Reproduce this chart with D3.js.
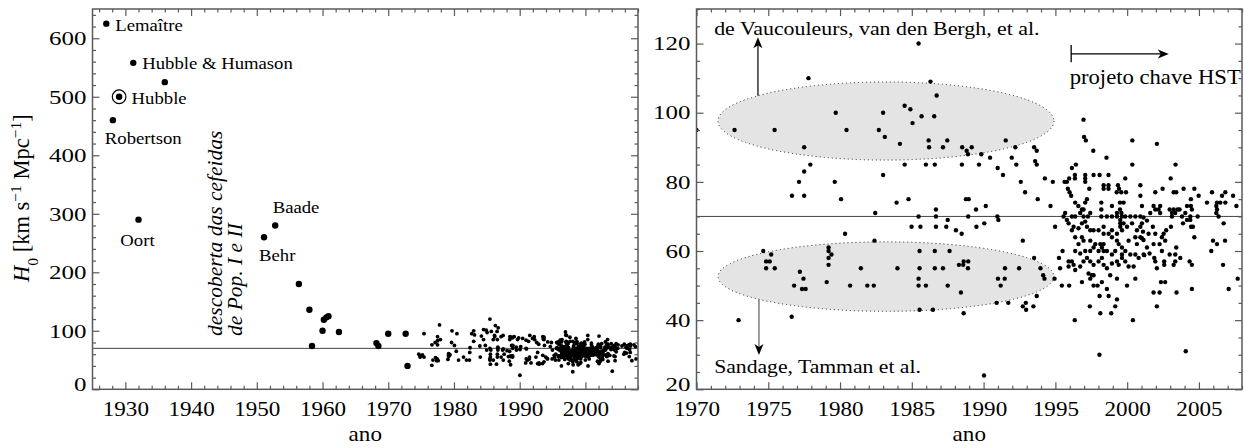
<!DOCTYPE html>
<html>
<head>
<meta charset="utf-8">
<script src="https://cdn.jsdelivr.net/npm/d3@7"></script>
<style>
  body { margin: 0; background: #fff; }
  svg { display: block; }
</style>
</head>
<body>
<svg id="chart" width="1244" height="448" font-family="'Liberation Serif', 'DejaVu Serif', serif"></svg>
<script>
// ---- Early determinations of the Hubble constant (year, H0) ----
const earlyMeasures = [
  [1927.1, 625], [1928.1, 460], [1929.05, 500], [1931.2, 558], [1932.0, 290],
  [1936.0, 525], [1951.1, 260], [1952.8, 280], [1956.4, 180], [1958.0, 136],
  [1958.4, 74], [1960.0, 100], [1960.2, 119], [1960.6, 123], [1960.9, 125],
  [1962.5, 98], [1968.2, 79], [1968.5, 74]
];

// Named historical determinations
const namedMeasures = [
  { name: "Lemaître", year: 1927.1, h0: 625 },
  { name: "Robertson", year: 1928.1, h0: 460 },
  { name: "Hubble", year: 1929.05, h0: 500 },
  { name: "Hubble & Humason", year: 1931.2, h0: 558 },
  { name: "Oort", year: 1932.0, h0: 290 },
  { name: "Behr", year: 1951.1, h0: 260 },
  { name: "Baade", year: 1952.8, h0: 280 }
];

// ---- Modern determinations (year, H0) ----
const measures1970s = [
  [1970.0, 95], [1972.65, 95], [1972.93, 40], [1974.65, 60], [1975.2, 59], [1974.85, 57],
  [1975.1, 57], [1974.85, 55], [1975.45, 55], [1975.44, 95], [1976.63, 41], [1976.65, 76],
  [1976.8, 50], [1977.14, 80], [1977.2, 54], [1977.45, 52], [1977.35, 49], [1977.6, 49],
  [1977.5, 76], [1977.5, 83], [1977.93, 85], [1977.5, 90], [1977.8, 110], [1979.2, 61],
  [1979.2, 60], [1979.4, 59], [1979.2, 58], [1979.2, 56], [1979.07, 51], [1979.63, 80],
  [1979.7, 100]
];

const measures1980s = [
  [1980.07, 75], [1980.35, 65], [1980.45, 95], [1980.7, 50], [1981.45, 55], [1981.9, 50],
  [1982.35, 50], [1982.4, 63], [1982.45, 71], [1982.7, 95], [1983.0, 82], [1983.0, 100],
  [1983.12, 93], [1983.94, 74], [1984.0, 55], [1984.17, 91], [1984.5, 85], [1984.5, 102],
  [1984.77, 75], [1984.9, 101], [1984.98, 67], [1985.05, 97], [1985.47, 120], [1985.47, 70],
  [1985.47, 52], [1985.47, 50], [1985.54, 60], [1985.54, 55], [1985.54, 43], [1985.6, 67],
  [1985.68, 99], [1985.98, 85], [1985.98, 50], [1986.17, 92], [1986.2, 90], [1986.3, 109],
  [1986.47, 43], [1986.56, 99], [1986.6, 85], [1986.6, 60], [1986.6, 55], [1986.68, 72],
  [1986.68, 70], [1986.68, 67], [1986.73, 105], [1987.17, 90], [1987.17, 55], [1987.4, 67],
  [1987.47, 92], [1987.5, 69], [1987.5, 50], [1987.63, 60], [1988.07, 66], [1988.28, 56],
  [1988.42, 48], [1988.47, 65], [1988.49, 85], [1988.51, 90], [1988.58, 56], [1988.61, 57],
  [1988.61, 42], [1988.77, 75], [1988.82, 89], [1988.91, 88], [1988.91, 55], [1988.93, 70],
  [1988.93, 57], [1988.96, 75], [1989.17, 90], [1989.47, 72], [1989.5, 67], [1989.68, 85],
  [1989.84, 88]
];

const measures1990s = [
  [1990.03, 24], [1990.05, 68], [1990.15, 73], [1990.45, 87], [1990.91, 45], [1990.96, 70],
  [1990.98, 84], [1991.0, 52], [1991.03, 69], [1991.19, 50], [1991.35, 82], [1991.47, 52],
  [1991.49, 55], [1991.54, 92], [1991.72, 45], [1991.96, 87], [1992.21, 90], [1992.28, 85],
  [1992.47, 55], [1992.59, 80], [1992.73, 63], [1992.73, 44], [1992.89, 77], [1992.94, 45],
  [1992.96, 43], [1993.47, 44], [1993.52, 90], [1993.52, 58], [1993.59, 86], [1993.7, 89],
  [1993.7, 85], [1993.7, 47], [1993.77, 75], [1993.96, 55], [1994.15, 53], [1994.24, 52],
  [1994.27, 81], [1994.66, 73], [1994.82, 80], [1994.94, 52], [1994.98, 67], [1995.25, 58],
  [1995.33, 55], [1995.5, 60], [1995.45, 50], [1995.57, 70], [1995.64, 80], [1995.68, 71],
  [1995.8, 80], [1995.8, 69], [1995.87, 78], [1995.92, 68], [1995.92, 57], [1995.92, 55.5],
  [1995.96, 81], [1995.96, 50], [1995.99, 77], [1996.1, 76], [1996.15, 84], [1996.15, 70],
  [1996.15, 66], [1996.15, 57], [1996.27, 67], [1996.27, 56], [1996.35, 40], [1996.36, 82],
  [1996.36, 81], [1996.38, 74], [1996.38, 70], [1996.38, 64], [1996.38, 60], [1996.38, 54.5],
  [1996.43, 85], [1996.6, 73], [1996.61, 66.6], [1996.61, 62], [1996.73, 71], [1996.73, 59.3],
  [1996.73, 55.5], [1996.85, 72], [1996.85, 68], [1996.85, 64], [1996.85, 51], [1996.96, 98],
  [1996.96, 72], [1996.96, 70], [1996.96, 63], [1996.96, 57], [1997.0, 93], [1997.08, 82],
  [1997.08, 81], [1997.08, 80], [1997.08, 74], [1997.08, 68.5], [1997.08, 60], [1997.12, 92],
  [1997.2, 75], [1997.2, 67], [1997.2, 58], [1997.27, 70], [1997.31, 53.5], [1997.36, 78],
  [1997.4, 44], [1997.43, 71], [1997.43, 66], [1997.43, 63], [1997.43, 60], [1997.43, 57],
  [1997.43, 52], [1997.55, 53], [1997.64, 89], [1997.66, 82], [1997.66, 66], [1997.66, 61],
  [1997.66, 56], [1997.66, 53], [1997.66, 50], [1997.78, 62], [1997.94, 50], [1998.01, 66],
  [1998.01, 60], [1998.01, 57], [1998.08, 82], [1998.08, 47], [1998.07, 30], [1998.13, 62],
  [1998.13, 42], [1998.2, 74], [1998.2, 72], [1998.2, 70], [1998.24, 61], [1998.24, 58],
  [1998.24, 51], [1998.36, 79], [1998.36, 78], [1998.36, 67], [1998.36, 65], [1998.36, 62],
  [1998.36, 60], [1998.36, 56], [1998.56, 87], [1998.59, 70], [1998.59, 60], [1998.59, 55],
  [1998.59, 49], [1998.7, 82], [1998.7, 79], [1998.7, 78], [1998.71, 65], [1998.71, 47],
  [1998.82, 53], [1998.89, 42], [1998.94, 73], [1998.94, 70], [1998.94, 66], [1998.94, 64],
  [1998.94, 59], [1998.94, 56.4], [1999.17, 60], [1999.17, 44], [1999.27, 77], [1999.29, 71],
  [1999.29, 70], [1999.29, 65], [1999.29, 63], [1999.29, 57], [1999.29, 52], [1999.29, 46],
  [1999.36, 79], [1999.41, 62], [1999.41, 56], [1999.43, 78], [1999.5, 74], [1999.5, 72],
  [1999.52, 69], [1999.52, 68], [1999.52, 67], [1999.59, 77], [1999.6, 71], [1999.64, 70],
  [1999.64, 66], [1999.64, 61], [1999.64, 59], [1999.64, 58], [1999.75, 74], [1999.75, 68],
  [1999.87, 81], [1999.87, 70], [1999.87, 60], [1999.87, 57], [1999.92, 77], [1999.99, 67],
  [1999.99, 50]
];

const measures2000s = [
  [2000.1, 63], [2000.1, 55.5], [2000.22, 70], [2000.22, 59], [2000.34, 68], [2000.36, 92],
  [2000.36, 85], [2000.4, 40], [2000.45, 55.5], [2000.57, 70], [2000.57, 64], [2000.57, 59],
  [2000.57, 52], [2000.68, 66], [2000.68, 62], [2000.8, 58], [2000.92, 79], [2000.92, 76],
  [2000.92, 70], [2000.92, 67], [2000.92, 64], [2001.03, 73], [2001.03, 68], [2001.03, 63.7],
  [2001.1, 65.6], [2001.14, 69.7], [2001.14, 63.2], [2001.15, 59], [2001.19, 58.8], [2001.38, 68.8],
  [2001.38, 61], [2001.49, 65], [2001.56, 59.3], [2001.61, 71], [2001.79, 67], [2001.84, 73],
  [2001.84, 62], [2001.84, 48], [2001.89, 58], [2001.96, 77], [2001.96, 72], [2001.96, 65],
  [2001.96, 57], [2002.07, 91], [2002.07, 55], [2002.07, 44], [2002.19, 72], [2002.26, 62],
  [2002.26, 48], [2002.3, 73], [2002.3, 71], [2002.35, 51], [2002.42, 64], [2002.42, 60],
  [2002.47, 78], [2002.54, 65], [2002.58, 57], [2002.58, 56], [2002.65, 63], [2002.65, 51],
  [2002.72, 66], [2002.96, 72], [2002.96, 59], [2003.03, 81], [2003.05, 67], [2003.12, 71],
  [2003.12, 70], [2003.24, 77], [2003.24, 72], [2003.24, 56], [2003.35, 71], [2003.35, 59],
  [2003.35, 57], [2003.37, 85], [2003.42, 77], [2003.42, 61], [2003.44, 48], [2003.51, 72],
  [2003.65, 72], [2003.7, 58], [2003.82, 70], [2003.89, 68], [2003.93, 78], [2004.05, 71],
  [2004.08, 31], [2004.17, 73], [2004.17, 69], [2004.35, 57], [2004.4, 70], [2004.4, 69],
  [2004.44, 75], [2004.44, 73], [2004.51, 72], [2004.51, 56], [2004.51, 49], [2004.45, 67],
  [2004.58, 67], [2004.68, 78], [2004.68, 64], [2004.91, 70], [2004.98, 76], [2005.56, 74],
  [2005.86, 60], [2005.91, 77], [2005.98, 63], [2006.21, 73], [2006.21, 71], [2006.26, 74],
  [2006.26, 72], [2006.26, 62], [2006.37, 70], [2006.49, 74], [2006.61, 76], [2006.68, 56],
  [2006.72, 68], [2006.82, 63], [2006.84, 77], [2006.84, 74], [2007.07, 49], [2007.38, 76],
  [2007.61, 73], [2007.7, 52]
];

// Reference value of H0 drawn as a horizontal line
const h0Reference = 70;

// Tick values
const leftYearTicks = [1930, 1940, 1950, 1960, 1970, 1980, 1990, 2000];
const leftH0Ticks = [0, 100, 200, 300, 400, 500, 600];
const rightYearTicks = [1970, 1975, 1980, 1985, 1990, 1995, 2000, 2005];
const rightH0Ticks = [20, 40, 60, 80, 100, 120];

// ---------------------------------------------------------------
const modern = [].concat(measures1970s, measures1980s, measures1990s, measures2000s);
const svg = d3.select("#chart");
const FRAME = "#5a5a5a";
const SERIF = "'Liberation Serif', 'DejaVu Serif', serif";
const WIDE = 1.1;   // slightly widened lettering used throughout the figure

const leftBox = { x0: 92.5, x1: 638, y0: 9, y1: 389.3 };
const rightBox = { x0: 696.5, x1: 1242, y0: 9, y1: 389.3 };

const xL = d3.scaleLinear().domain([1925, 2008]).range([leftBox.x0, leftBox.x1]);
const yL = d3.scaleLinear().domain([0, 650]).range([leftBox.y1, leftBox.y0]);
const xR = d3.scaleLinear().domain([1970, 2008]).range([rightBox.x0, rightBox.x1]);
const yR = d3.scaleLinear().domain([20, 130]).range([rightBox.y1, rightBox.y0]);

function minorOf(start, stop, step, majors) {
  return d3.range(start, stop + 1e-9, step).filter(v => !majors.some(m => Math.abs(m - v) < 1e-6));
}

function drawFrame(box, xs, ys, xMaj, xMin, yMaj, yMin) {
  const g = svg.append("g");
  const add = (axis, tr, vals, size, fmt, pad) => {
    const a = g.append("g").attr("transform", tr)
      .call(axis.tickValues(vals).tickSize(size).tickSizeOuter(0).tickPadding(pad || 0).tickFormat(fmt || (() => "")));
    a.select(".domain").remove();
    a.selectAll("line").attr("stroke", FRAME).attr("stroke-width", 1.2);
    a.attr("font-family", SERIF).attr("font-size", null);
    a.selectAll("text").attr("fill", "#000");
    return a;
  };
  const fmt = d3.format("d");
  add(d3.axisBottom(xs), `translate(0,${box.y1})`, xMin, -3.5);
  add(d3.axisBottom(xs), `translate(0,${box.y1})`, xMaj, -7, fmt, 11.5)
    .selectAll("text").attr("font-size", 21).attr("transform", `scale(${WIDE},1)`);
  add(d3.axisTop(xs), `translate(0,${box.y0})`, xMin, -3.5);
  add(d3.axisTop(xs), `translate(0,${box.y0})`, xMaj, -7);
  add(d3.axisLeft(ys), `translate(${box.x0},0)`, yMin, -3.5);
  const sy = 1.28, padY = 6;
  add(d3.axisLeft(ys), `translate(${box.x0},0)`, yMaj, -7, fmt, padY)
    .selectAll("text")
      .attr("font-size", 19.5)
      .attr("x", -padY / sy)
      .attr("transform", `scale(${sy},1)`)
      // the lowest label sits a little above its tick, clear of the year labels
      .attr("y", d => d === ys.domain()[0] ? -5.5 : 0);
  add(d3.axisRight(ys), `translate(${box.x1},0)`, yMin, -3.5);
  add(d3.axisRight(ys), `translate(${box.x1},0)`, yMaj, -7);
  svg.append("rect")
    .attr("x", box.x0).attr("y", box.y0)
    .attr("width", box.x1 - box.x0).attr("height", box.y1 - box.y0)
    .attr("fill", "none").attr("stroke", FRAME).attr("stroke-width", 1.5);
}

function clipFor(id, box) {
  svg.append("clipPath").attr("id", id).append("rect")
    .attr("x", box.x0).attr("y", box.y0)
    .attr("width", box.x1 - box.x0).attr("height", box.y1 - box.y0);
  return `url(#${id})`;
}

function label(x, y, size, str, anchor) {
  return svg.append("text")
    .attr("transform", `translate(${x},${y}) scale(${WIDE},1)`)
    .attr("text-anchor", anchor || "start")
    .attr("font-family", SERIF).attr("font-size", size).attr("fill", "#000").text(str);
}

// ================= Left panel: full history =================
const leftPlot = svg.append("g").attr("clip-path", clipFor("clipL", leftBox));

leftPlot.append("line")
  .attr("x1", leftBox.x0).attr("x2", leftBox.x1)
  .attr("y1", yL(h0Reference)).attr("y2", yL(h0Reference))
  .attr("stroke", "#444").attr("stroke-width", 1);

leftPlot.selectAll("circle.early").data(earlyMeasures).join("circle")
  .attr("class", "early")
  .attr("cx", d => xL(d[0])).attr("cy", d => yL(d[1])).attr("r", 3.2)
  .attr("fill", "#000");

leftPlot.selectAll("circle.modern").data(modern).join("circle")
  .attr("class", "modern")
  .attr("cx", d => xL(d[0])).attr("cy", d => yL(d[1]))
  .attr("r", d => d[0] < 1974 ? 3.2 : 1.9)
  .attr("fill", "#000");

// Hubble's value is marked with a ring
const hubble = namedMeasures.find(d => d.name === "Hubble");
leftPlot.append("circle")
  .attr("cx", xL(hubble.year)).attr("cy", yL(hubble.h0)).attr("r", 6.8)
  .attr("fill", "none").attr("stroke", "#000").attr("stroke-width", 1.2);

const labelPlacement = {
  "Lemaître": { dx: 9, dy: 7, anchor: "start" },
  "Robertson": { dx: -8, dy: 24, anchor: "start" },
  "Hubble": { dx: 12.5, dy: 7, anchor: "start" },
  "Hubble & Humason": { dx: 9, dy: 6, anchor: "start" },
  "Oort": { dx: -1, dy: 26, anchor: "middle" },
  "Behr": { dx: -5, dy: 23.5, anchor: "start" },
  "Baade": { dx: -2.5, dy: -12, anchor: "start" }
};
namedMeasures.forEach(d => {
  const p = labelPlacement[d.name];
  label(xL(d.year) + p.dx, yL(d.h0) + p.dy, 17, d.name, p.anchor);
});

// Cepheid population discovery note
const note = svg.append("text")
  .attr("transform", "translate(222,336) rotate(-90)")
  .attr("font-family", SERIF).attr("font-size", 21.5).attr("font-style", "italic");
note.append("tspan").attr("x", 0).attr("y", 0).text("descoberta das cefeidas");
note.append("tspan").attr("x", 0).attr("y", 20).text("de Pop. I e II");

drawFrame(leftBox, xL, yL, leftYearTicks, minorOf(1926, 2008, 2, leftYearTicks),
  leftH0Ticks, minorOf(0, 640, 20, leftH0Ticks));

// Axis titles
label((leftBox.x0 + leftBox.x1) / 2, 441, 21, "ano", "middle");

const ytitle = svg.append("text")
  .attr("transform", `translate(29,${(leftBox.y0 + leftBox.y1) / 2 - 1}) rotate(-90)`)
  .attr("text-anchor", "middle").attr("font-family", SERIF).attr("font-size", 22.5);
ytitle.append("tspan").attr("font-style", "italic").text("H");
ytitle.append("tspan").attr("baseline-shift", "sub").attr("font-size", 15.5).text("0");
ytitle.append("tspan").text(" [km s");
ytitle.append("tspan").attr("baseline-shift", "super").attr("font-size", 15.5).text("−1");
ytitle.append("tspan").text(" Mpc");
ytitle.append("tspan").attr("baseline-shift", "super").attr("font-size", 15.5).text("−1");
ytitle.append("tspan").text("]");

// ================= Right panel: since 1970 =================
const rightPlot = svg.append("g").attr("clip-path", clipFor("clipR", rightBox));

// Two schools of measurements, outlined as shaded ellipses (centre year/H0, half-widths)
const schools = [
  { cx: 1983.2, cy: 97.6, rx: 11.7, ry: 11.3 },
  { cx: 1983.2, cy: 52.6, rx: 11.7, ry: 10.05 }
];
rightPlot.selectAll("ellipse").data(schools).join("ellipse")
  .attr("cx", d => xR(d.cx)).attr("cy", d => yR(d.cy))
  .attr("rx", d => xR(d.cx + d.rx) - xR(d.cx))
  .attr("ry", d => yR(d.cy) - yR(d.cy + d.ry))
  .attr("fill", "#e4e4e4").attr("stroke", "#222")
  .attr("stroke-width", 1).attr("stroke-dasharray", "1 3");

rightPlot.append("line")
  .attr("x1", rightBox.x0).attr("x2", rightBox.x1)
  .attr("y1", yR(h0Reference)).attr("y2", yR(h0Reference))
  .attr("stroke", "#444").attr("stroke-width", 1);

rightPlot.selectAll("circle").data(modern).join("circle")
  .attr("cx", d => xR(d[0])).attr("cy", d => yR(d[1])).attr("r", 2.2)
  .attr("fill", "#000");

// Arrows: vertical ones point from each ellipse to its school label
function arrowHead(x, y, dir) {
  const L = 11, Wd = 4.5;
  let p;
  if (dir === "up") p = [[x, y], [x - Wd, y + L], [x, y + L - 3], [x + Wd, y + L]];
  else if (dir === "down") p = [[x, y], [x - Wd, y - L], [x, y - L + 3], [x + Wd, y - L]];
  else p = [[x, y], [x - L, y - Wd], [x - L + 3, y], [x - L, y + Wd]];
  svg.append("path").attr("d", "M" + p.join("L") + "Z").attr("fill", "#000");
}

const upX = xR(1974.28);
svg.append("line").attr("x1", upX).attr("x2", upX)
  .attr("y1", yR(104.9)).attr("y2", yR(121.8) + 6)
  .attr("stroke", "#111").attr("stroke-width", 1.3);
arrowHead(upX, yR(121.8), "up");

const downX = xR(1974.35);
svg.append("line").attr("x1", downX).attr("x2", downX)
  .attr("y1", yR(46)).attr("y2", yR(29.9) - 6)
  .attr("stroke", "#666").attr("stroke-width", 1.3);
arrowHead(downX, yR(29.9), "down");

label(xR(1971.23), 35, 19.9, "de Vaucouleurs, van den Bergh, et al.");
label(xR(1971.23), 372.5, 19.7, "Sandage, Tamman et al.");

// HST Key Project marker
const hstStart = xR(1996.1), hstEnd = xR(2002.9), hstY = yR(117);
svg.append("line").attr("x1", hstStart).attr("x2", hstStart)
  .attr("y1", yR(119.6)).attr("y2", yR(114.6))
  .attr("stroke", "#000").attr("stroke-width", 1.3);
svg.append("line").attr("x1", hstStart).attr("x2", hstEnd - 6)
  .attr("y1", hstY).attr("y2", hstY)
  .attr("stroke", "#000").attr("stroke-width", 1.3);
arrowHead(hstEnd, hstY, "right");
label(hstStart - 1.5, 83.5, 20.6, "projeto chave HST");

drawFrame(rightBox, xR, yR, rightYearTicks, minorOf(1971, 2008, 1, rightYearTicks),
  rightH0Ticks, minorOf(20, 130, 5, rightH0Ticks));

label((rightBox.x0 + rightBox.x1) / 2, 441, 21, "ano", "middle");
</script>
</body>
</html>
